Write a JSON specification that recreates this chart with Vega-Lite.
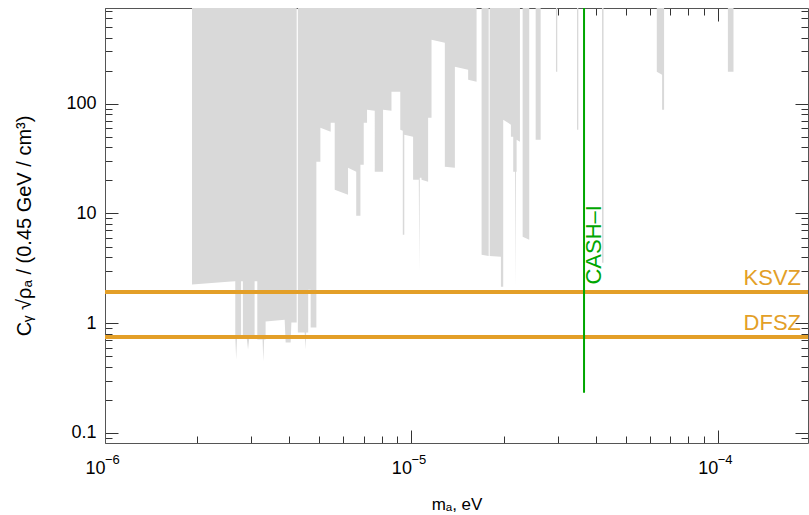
{
  "$schema": "https://vega.github.io/schema/vega-lite/v6.json",
  "width": 703,
  "height": 435,
  "autosize": {"type": "none"},
  "padding": {"left": 105, "top": 8, "right": 1, "bottom": 72},
  "background": "white",
  "config": {
    "font": "Liberation Sans",
    "view": {"stroke": null},
    "axis": {
      "grid": false,
      "domainColor": "#555555",
      "domainWidth": 1,
      "tickColor": "#333333",
      "tickWidth": 1,
      "labelColor": "#000000",
      "titleColor": "#000000",
      "labelFontSize": 18,
      "titleFontSize": 18,
      "titleFontWeight": "normal",
      "labelOverlap": false,
      "labelFlush": false,
      "zindex": 1
    }
  },
  "resolve": {"axis": {"x": "independent", "y": "independent"}},
  "datasets": {
    "limits": [
      {"m": 1.923e-6, "lo": 2.247},
      {"m": 2.227e-6, "lo": 2.319},
      {"m": 2.583e-6, "lo": 2.393},
      {"m": 2.662e-6, "lo": 2.408},
      {"m": 2.662e-6, "lo": 0.755},
      {"m": 2.68e-6, "lo": 0.466},
      {"m": 2.698e-6, "lo": 0.755},
      {"m": 2.781e-6, "lo": 0.755},
      {"m": 2.781e-6, "lo": 2.408},
      {"m": 2.818e-6, "lo": 2.408},
      {"m": 2.818e-6, "lo": 0.755},
      {"m": 2.898e-6, "lo": 0.755},
      {"m": 2.93e-6, "lo": 0.575},
      {"m": 2.96e-6, "lo": 0.755},
      {"m": 3.078e-6, "lo": 0.755},
      {"m": 3.078e-6, "lo": 2.408},
      {"m": 3.141e-6, "lo": 2.408},
      {"m": 3.141e-6, "lo": 0.709},
      {"m": 3.268e-6, "lo": 0.709},
      {"m": 3.286e-6, "lo": 0.447},
      {"m": 3.306e-6, "lo": 0.709},
      {"m": 3.343e-6, "lo": 0.709},
      {"m": 3.343e-6, "lo": 1.034},
      {"m": 3.858e-6, "lo": 1.078},
      {"m": 3.887e-6, "lo": 0.666},
      {"m": 4.036e-6, "lo": 0.666},
      {"m": 4.058e-6, "lo": 1.013},
      {"m": 4.223e-6, "lo": 1.013},
      {"m": 4.223e-6, "lo": 745},
      {"m": 4.261e-6, "lo": 745},
      {"m": 4.261e-6, "lo": 0.821},
      {"m": 4.485e-6, "lo": 0.821},
      {"m": 4.508e-6, "lo": 0.575},
      {"m": 4.535e-6, "lo": 0.821},
      {"m": 4.604e-6, "lo": 0.821},
      {"m": 4.604e-6, "lo": 2.023},
      {"m": 4.691e-6, "lo": 2.023},
      {"m": 4.691e-6, "lo": 0.912},
      {"m": 4.896e-6, "lo": 0.912},
      {"m": 4.896e-6, "lo": 29.63},
      {"m": 5.046e-6, "lo": 29.63},
      {"m": 5.046e-6, "lo": 60.44},
      {"m": 5.453e-6, "lo": 55.58},
      {"m": 5.453e-6, "lo": 67.14},
      {"m": 5.62e-6, "lo": 67.14},
      {"m": 5.62e-6, "lo": 16.47},
      {"m": 6.212e-6, "lo": 14.84},
      {"m": 6.212e-6, "lo": 26.13},
      {"m": 6.606e-6, "lo": 24.03},
      {"m": 6.606e-6, "lo": 9.549},
      {"m": 6.818e-6, "lo": 9.549},
      {"m": 6.818e-6, "lo": 27.83},
      {"m": 6.99e-6, "lo": 27.83},
      {"m": 6.99e-6, "lo": 67.14},
      {"m": 7.166e-6, "lo": 67.14},
      {"m": 7.166e-6, "lo": 88.18},
      {"m": 7.593e-6, "lo": 86.35},
      {"m": 7.593e-6, "lo": 24.03},
      {"m": 8.083e-6, "lo": 24.03},
      {"m": 8.083e-6, "lo": 88.18},
      {"m": 8.61e-6, "lo": 86.35},
      {"m": 8.61e-6, "lo": 128.6},
      {"m": 9.199e-6, "lo": 128.6},
      {"m": 9.199e-6, "lo": 57.96},
      {"m": 9.374e-6, "lo": 56.76},
      {"m": 9.374e-6, "lo": 6.411},
      {"m": 9.48e-6, "lo": 6.411},
      {"m": 9.48e-6, "lo": 52.2},
      {"m": 1.0129e-5, "lo": 50.06},
      {"m": 1.0129e-5, "lo": 20.32},
      {"m": 1.0572e-5, "lo": 20.32},
      {"m": 1.0612e-5, "lo": 2.89},
      {"m": 1.0652e-5, "lo": 21.19},
      {"m": 1.079e-5, "lo": 21.19},
      {"m": 1.079e-5, "lo": 20.32},
      {"m": 1.1339e-5, "lo": 19.48},
      {"m": 1.1339e-5, "lo": 74.58},
      {"m": 1.1633e-5, "lo": 74.58},
      {"m": 1.1633e-5, "lo": 382.7},
      {"m": 1.2857e-5, "lo": 359.4},
      {"m": 1.2857e-5, "lo": 26.69},
      {"m": 1.3866e-5, "lo": 26.13},
      {"m": 1.3866e-5, "lo": 217.3},
      {"m": 1.5321e-5, "lo": 204.0},
      {"m": 1.5321e-5, "lo": 165.4},
      {"m": 1.6322e-5, "lo": 158.6},
      {"m": 1.6322e-5, "lo": 745},
      {"m": 1.6947e-5, "lo": 745},
      {"m": 1.6947e-5, "lo": 4.215},
      {"m": 1.7876e-5, "lo": 4.1},
      {"m": 1.7876e-5, "lo": 745},
      {"m": 1.8011e-5, "lo": 745},
      {"m": 1.8011e-5, "lo": 4.1},
      {"m": 1.9597e-5, "lo": 4.042},
      {"m": 1.9597e-5, "lo": 2.154},
      {"m": 1.9939e-5, "lo": 2.154},
      {"m": 1.9939e-5, "lo": 71.52},
      {"m": 2.1127e-5, "lo": 64.39},
      {"m": 2.1127e-5, "lo": 50.06},
      {"m": 2.1496e-5, "lo": 50.06},
      {"m": 2.1496e-5, "lo": 24.03},
      {"m": 2.18e-5, "lo": 24.03},
      {"m": 2.187e-5, "lo": 2.066},
      {"m": 2.195e-5, "lo": 24.03},
      {"m": 2.2053e-5, "lo": 24.03},
      {"m": 2.2053e-5, "lo": 47.0},
      {"m": 2.2607e-5, "lo": 45.07},
      {"m": 2.2607e-5, "lo": 745},
      {"m": 2.3071e-5, "lo": 745},
      {"m": 2.3071e-5, "lo": 6.147},
      {"m": 2.4246e-5, "lo": 5.772},
      {"m": 2.4246e-5, "lo": 745},
      {"m": 2.5443e-5, "lo": 745},
      {"m": 2.5443e-5, "lo": 47.0},
      {"m": 2.6418e-5, "lo": 47.0},
      {"m": 2.6418e-5, "lo": 745},
      {"m": 2.9642e-5, "lo": 745},
      {"m": 2.9642e-5, "lo": 195.6},
      {"m": 2.9933e-5, "lo": 195.6},
      {"m": 2.9933e-5, "lo": 745},
      {"m": 3.472e-5, "lo": 745},
      {"m": 3.472e-5, "lo": 57.96},
      {"m": 3.5062e-5, "lo": 57.96},
      {"m": 3.5062e-5, "lo": 745},
      {"m": 4.1905e-5, "lo": 745},
      {"m": 4.1905e-5, "lo": 3.563},
      {"m": 4.2381e-5, "lo": 3.563},
      {"m": 4.2381e-5, "lo": 745},
      {"m": 6.3232e-5, "lo": 745},
      {"m": 6.3232e-5, "lo": 195.6},
      {"m": 6.5804e-5, "lo": 183.8},
      {"m": 6.5804e-5, "lo": 88.18},
      {"m": 6.6803e-5, "lo": 88.18},
      {"m": 6.6803e-5, "lo": 745},
      {"m": 1.079e-4, "lo": 745},
      {"m": 1.079e-4, "lo": 195.6},
      {"m": 1.1255e-4, "lo": 195.6},
      {"m": 1.1255e-4, "lo": 745}
    ],
    "models": [
      {"name": "KSVZ", "c": 1.92},
      {"name": "DFSZ", "c": 0.75}
    ],
    "cash": [
      {"name": "CASH–I", "m": 3.66e-5, "lo": 0.232}
    ],
    "decades": [
      {"m": 1e-6, "exp": "−6"},
      {"m": 1e-5, "exp": "−5"},
      {"m": 1e-4, "exp": "−4"}
    ]
  },
  "layer": [
    {
      "data": {"name": "limits"},
      "mark": {"type": "area", "color": "#D9D9D9", "opacity": 1},
      "encoding": {
        "x": {
          "field": "m",
          "type": "quantitative",
          "scale": {"type": "log", "domain": [1e-6, 1.97e-4], "nice": false},
          "axis": {
            "orient": "bottom",
            "values": [1e-6, 2e-6, 3e-6, 4e-6, 5e-6, 6e-6, 7e-6, 8e-6, 9e-6, 1e-5, 2e-5, 3e-5, 4e-5, 5e-5, 6e-5, 7e-5, 8e-5, 9e-5, 1e-4],
            "labelExpr": "datum.value == 1e-6 || datum.value == 1e-5 || datum.value == 1e-4 ? '10' : ''",
            "labelOffset": -10,
            "tickSize": {"condition": {"test": "datum.value == 1e-6 || datum.value == 1e-5 || datum.value == 1e-4", "value": -13}, "value": -7},
            "labelPadding": 29,
            "title": "mₐ, eV",
            "titleFontSize": 17,
            "titlePadding": 13
          }
        },
        "y": {
          "field": "lo",
          "type": "quantitative",
          "scale": {"type": "log", "domain": [0.081, 745], "nice": false},
          "axis": {
            "orient": "left",
            "values": [0.09, 0.1, 0.2, 0.3, 0.4, 0.5, 0.6, 0.7, 0.8, 0.9, 1, 2, 3, 4, 5, 6, 7, 8, 9, 10, 20, 30, 40, 50, 60, 70, 80, 90, 100, 200, 300, 400, 500, 600, 700],
            "labelExpr": "datum.value == 100 ? '100' : datum.value == 10 ? '10' : datum.value == 1 ? '1' : datum.value == 0.1 ? '0.1' : ''",
            "tickSize": {"condition": {"test": "datum.value == 0.1 || datum.value == 1 || datum.value == 10 || datum.value == 100", "value": -13}, "value": -7},
            "labelPadding": 22,
            "title": "Cᵧ  √ρₐ / (0.45 GeV / cm³)",
            "titleFontSize": 20,
            "titlePadding": 31
          }
        },
        "y2": {"datum": 745}
      }
    },
    {
      "data": {"name": "models"},
      "mark": {"type": "rule", "color": "#E39F28", "strokeWidth": 4},
      "encoding": {
        "y": {"field": "c", "type": "quantitative", "axis": null}
      }
    },
    {
      "data": {"name": "models"},
      "mark": {"type": "text", "align": "right", "baseline": "alphabetic", "dy": -7, "fontSize": 22, "color": "#E39F28"},
      "encoding": {
        "x": {"datum": 1.87e-4, "axis": null},
        "y": {"field": "c", "type": "quantitative", "axis": null},
        "text": {"field": "name"}
      }
    },
    {
      "data": {"name": "cash"},
      "mark": {"type": "rule", "color": "#00A600", "strokeWidth": 2},
      "encoding": {
        "x": {
          "field": "m",
          "type": "quantitative",
          "axis": {
            "orient": "top",
            "values": [1e-6, 2e-6, 3e-6, 4e-6, 5e-6, 6e-6, 7e-6, 8e-6, 9e-6, 1e-5, 2e-5, 3e-5, 4e-5, 5e-5, 6e-5, 7e-5, 8e-5, 9e-5, 1e-4],
            "labels": false,
            "title": null,
            "tickSize": {"condition": {"test": "datum.value == 1e-6 || datum.value == 1e-5 || datum.value == 1e-4", "value": -13}, "value": -7}
          }
        },
        "y": {
          "field": "lo",
          "type": "quantitative",
          "axis": {
            "orient": "right",
            "values": [0.09, 0.1, 0.2, 0.3, 0.4, 0.5, 0.6, 0.7, 0.8, 0.9, 1, 2, 3, 4, 5, 6, 7, 8, 9, 10, 20, 30, 40, 50, 60, 70, 80, 90, 100, 200, 300, 400, 500, 600, 700],
            "labels": false,
            "title": null,
            "tickSize": {"condition": {"test": "datum.value == 0.1 || datum.value == 1 || datum.value == 10 || datum.value == 100", "value": -13}, "value": -7}
          }
        },
        "y2": {"datum": 745}
      }
    },
    {
      "data": {"name": "cash"},
      "mark": {"type": "text", "angle": 270, "align": "left", "baseline": "alphabetic", "dy": 17, "fontSize": 22, "color": "#00A600"},
      "encoding": {
        "x": {"field": "m", "type": "quantitative", "axis": null},
        "y": {"datum": 2.25, "axis": null},
        "text": {"field": "name"}
      }
    },
    {
      "data": {"name": "decades"},
      "mark": {"type": "text", "align": "left", "baseline": "alphabetic", "dx": 0, "dy": 21, "fontSize": 13, "color": "#000000"},
      "encoding": {
        "x": {"field": "m", "type": "quantitative", "axis": null},
        "y": {"datum": 0.081, "axis": null},
        "text": {"field": "exp"}
      }
    }
  ]
}
